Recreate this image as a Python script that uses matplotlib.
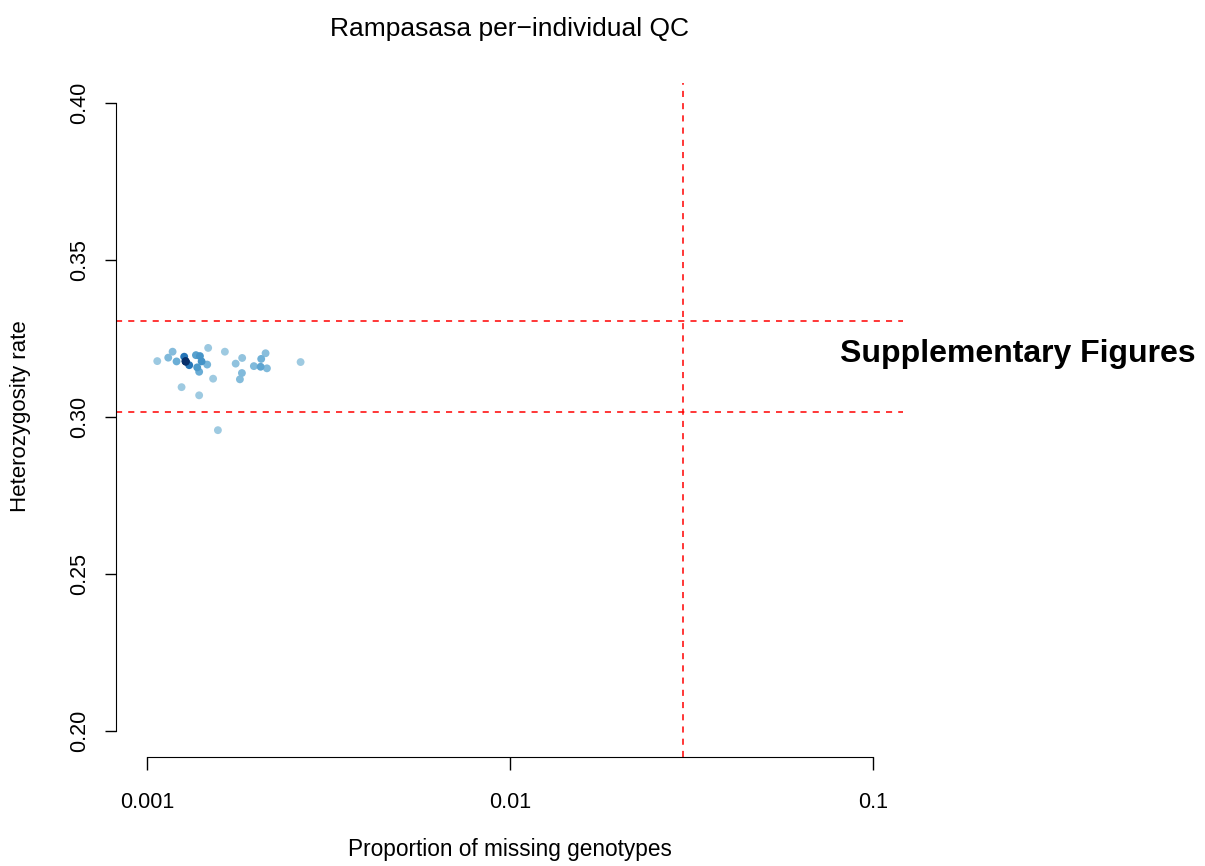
import numpy as np
import matplotlib.pyplot as plt
from matplotlib.colors import LinearSegmentedColormap

plt.rcParams['font.family'] = ['Liberation Sans', 'DejaVu Sans']

# per-individual QC values
missing = [0.001068, 0.001145, 0.001177, 0.001207, 0.001267, 0.001278, 0.001278, 0.001280,
           0.001308, 0.001246, 0.001365, 0.001400, 0.001415, 0.001466,
           0.001376, 0.001393, 0.001393, 0.001475, 0.001522, 0.001640, 0.001569, 0.001756,
           0.001830, 0.001827, 0.001804, 0.001971, 0.002057, 0.002065, 0.002123, 0.002141,
           0.002651]
het = [0.3178, 0.3189, 0.3208, 0.3177, 0.3192, 0.3177, 0.3178, 0.3176,
       0.3165, 0.3095, 0.3197, 0.3194, 0.3177, 0.3167,
       0.3158, 0.3144, 0.3069, 0.3220, 0.3122, 0.3208, 0.2958, 0.3170,
       0.3188, 0.3140, 0.3120, 0.3162, 0.3160, 0.3185, 0.3203, 0.3155,
       0.3175]

miss_cut = 0.03
het_lo, het_hi = 0.3016, 0.3306

blues = ["#9ECAE1", "#6BAED6", "#4292C6", "#2171B5", "#08519C", "#08306B"]
cmap = LinearSegmentedColormap.from_list("dens", blues)

# density colours, like R's densCols
lx = np.log10(missing)
hy = np.array(het)
dx = (lx[:, None] - lx[None, :]) / 0.012
dy = (hy[:, None] - hy[None, :]) / 0.0014
dens = np.exp(-0.5 * (dx**2 + dy**2)).sum(axis=1)
dens = (dens - dens.min()) / (dens.max() - dens.min())
order = np.argsort(dens)

fig = plt.figure(figsize=(12.05, 8.66), dpi=100)
ax = fig.add_axes([0.0963, 0.1259, 0.6531, 0.7783])

ax.scatter(np.array(missing)[order], hy[order], c=cmap(dens[order]), s=32,
           linewidths=0, zorder=3)

ax.axvline(miss_cut, color='#FF0000', linestyle=(0, (4, 4)), linewidth=1.1)
ax.axhline(het_lo, color='#FF0000', linestyle=(0, (4, 4)), linewidth=1.1)
ax.axhline(het_hi, color='#FF0000', linestyle=(0, (4, 4)), linewidth=1.1)

ax.set_xscale('log')
ax.set_xlim(10**-3.085, 10**-0.917)
ax.set_ylim(0.1917, 0.4064)
ax.set_xticks([0.001, 0.01, 0.1])
ax.set_xticklabels(['0.001', '0.01', '0.1'])
ax.minorticks_off()
ax.set_yticks([0.20, 0.25, 0.30, 0.35, 0.40])
ax.set_yticklabels(['0.20', '0.25', '0.30', '0.35', '0.40'], rotation=90, va='center')

for s in ['top', 'right']:
    ax.spines[s].set_visible(False)
ax.spines['left'].set_bounds(0.20, 0.40)
ax.spines['bottom'].set_bounds(0.001, 0.1)
ax.tick_params(axis='x', length=9, width=1, pad=16, labelsize=15.5)
ax.tick_params(axis='y', length=8, width=1, pad=11, labelsize=15.5)

fig.text(0.4228, 0.966, 'Rampasasa per\u2212individual QC', ha='center', va='center', fontsize=19)
fig.text(0.4228, 0.0185, 'Proportion of missing genotypes', ha='center', va='center', fontsize=16.3)
fig.text(0.0166, 0.52, 'Heterozygosity rate', ha='center', va='center', rotation=90, fontsize=16)
fig.text(840 / 1205, 1 - 354 / 866, 'Supplementary Figures', ha='left', va='center',
         fontsize=23, fontweight='bold')

fig.savefig('out.png', dpi=100)
